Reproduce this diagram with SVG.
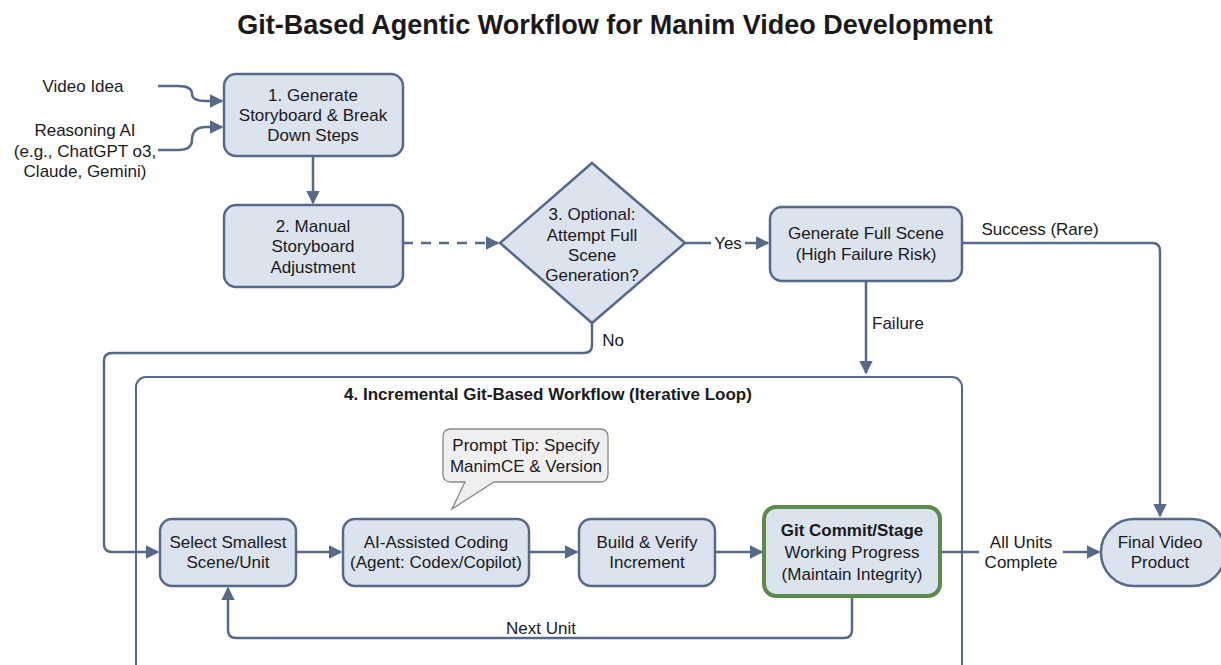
<svg xmlns="http://www.w3.org/2000/svg" width="1221" height="665" viewBox="0 0 1221 665">
  <style>
    text { font-family: "Liberation Sans", Arial, sans-serif; font-size: 17px; fill: #1a1a1a; text-anchor: middle; dominant-baseline: central; }
    .title { font-size: 27px; font-weight: bold; }
    .bold { font-weight: bold; }
    .node { fill: #dbe3ee; stroke: #56698b; stroke-width: 2.5; }
    .git { fill: #dbe3ee; stroke: #5b8a4c; stroke-width: 4; }
    .tip { fill: #efefef; stroke: #888; stroke-width: 1.3; }
    .frame { fill: none; stroke: #56698b; stroke-width: 2; }
    .edge { fill: none; stroke: #56698b; stroke-width: 2.5; }
    .dash { stroke-dasharray: 10 8; }
    .lbl-bg { fill: #ffffff; }
  </style>
  <defs>
    <marker id="arrow" viewBox="0 0 10 10" refX="9" refY="5" markerWidth="5.5" markerHeight="5.5" orient="auto">
      <path d="M0,0 L10,5 L0,10 z" fill="#56698b"/>
    </marker>
  </defs>
  <rect width="1221" height="665" fill="#ffffff"/>

  <text class="title" x="615" y="25">Git-Based Agentic Workflow for Manim Video Development</text>

  <!-- container for the iterative loop -->
  <g id="loop">
    <rect class="frame" x="136" y="377" width="826" height="310" rx="10"/>
    <text class="bold" x="548" y="394">4. Incremental Git-Based Workflow (Iterative Loop)</text>
  </g>

  <g id="connectors">
    <path class="edge" d="M158,86 H178 Q192,86 192,94 Q192,101 206,101 H222" marker-end="url(#arrow)"/>
    <path class="edge" d="M158,150 H178 Q192,150 192,140 Q192,127 206,127 H222" marker-end="url(#arrow)"/>
    <path class="edge" d="M313,156 V203" marker-end="url(#arrow)"/>
    <path class="edge dash" d="M403,243 H498" marker-end="url(#arrow)"/>
    <path class="edge" d="M685,243 H768" marker-end="url(#arrow)"/>
    <path class="edge" d="M962,243 H1152 Q1160,243 1160,251 V516" marker-end="url(#arrow)"/>
    <path class="edge" d="M866,281 V373" marker-end="url(#arrow)"/>
    <path class="edge" d="M592,323 V345 Q592,353 584,353 H112 Q104,353 104,361 V544 Q104,552 112,552 H158" marker-end="url(#arrow)"/>
    <path class="edge" d="M296,552 H341" marker-end="url(#arrow)"/>
    <path class="edge" d="M529,552 H577" marker-end="url(#arrow)"/>
    <path class="edge" d="M715,552 H762" marker-end="url(#arrow)"/>
    <path class="edge" d="M940,552 H1099" marker-end="url(#arrow)"/>
    <path class="edge" d="M852,596 V630 Q852,638 844,638 H236 Q228,638 228,630 V588" marker-end="url(#arrow)"/>
    <!-- edge labels -->
    <rect class="lbl-bg" x="711" y="233" width="34" height="20"/>
    <text x="728" y="243">Yes</text>
    <text x="1040" y="229">Success (Rare)</text>
    <text x="898" y="323">Failure</text>
    <text x="613" y="340">No</text>
    <rect class="lbl-bg" x="979" y="532" width="84" height="40"/>
    <text x="1021" y="542">All Units</text>
    <text x="1021" y="562">Complete</text>
    <text x="541" y="628">Next Unit</text>
  </g>

  <g id="inputs">
    <text x="83" y="86">Video Idea</text>
    <text x="85" y="130">Reasoning AI</text>
    <text x="85" y="151">(e.g., ChatGPT o3,</text>
    <text x="85" y="171">Claude, Gemini)</text>
  </g>

  <g id="storyboard">
    <rect class="node" x="224" y="74" width="179" height="82" rx="12"/>
    <text x="313" y="95">1. Generate</text>
    <text x="313" y="115">Storyboard &amp; Break</text>
    <text x="313" y="135">Down Steps</text>
  </g>

  <g id="manual-adjust">
    <rect class="node" x="224" y="205" width="179" height="82" rx="12"/>
    <text x="313" y="226">2. Manual</text>
    <text x="313" y="246">Storyboard</text>
    <text x="313" y="267">Adjustment</text>
  </g>

  <g id="decision">
    <polygon class="node" points="592,163 685,243 592,323 500,243"/>
    <text x="592" y="214">3. Optional:</text>
    <text x="592" y="235">Attempt Full</text>
    <text x="592" y="255">Scene</text>
    <text x="592" y="275">Generation?</text>
  </g>

  <g id="full-scene">
    <rect class="node" x="770" y="207" width="192" height="74" rx="12"/>
    <text x="866" y="233">Generate Full Scene</text>
    <text x="866" y="254">(High Failure Risk)</text>
  </g>

  <g id="prompt-tip">
    <path class="tip" d="M451,429 H600 Q608,429 608,437 V474 Q608,482 600,482 H494 L452,509 L465,482 H451 Q443,482 443,474 V437 Q443,429 451,429 Z"/>
    <text x="526" y="445">Prompt Tip: Specify</text>
    <text x="526" y="466">ManimCE &amp; Version</text>
  </g>

  <g id="select-unit">
    <rect class="node" x="160" y="519" width="136" height="67" rx="12"/>
    <text x="228" y="542">Select Smallest</text>
    <text x="228" y="562">Scene/Unit</text>
  </g>

  <g id="ai-coding">
    <rect class="node" x="343" y="519" width="186" height="67" rx="12"/>
    <text x="436" y="542">AI-Assisted Coding</text>
    <text x="436" y="562">(Agent: Codex/Copilot)</text>
  </g>

  <g id="build-verify">
    <rect class="node" x="579" y="519" width="136" height="67" rx="12"/>
    <text x="647" y="542">Build &amp; Verify</text>
    <text x="647" y="562">Increment</text>
  </g>

  <g id="git-commit">
    <rect class="git" x="764" y="507" width="176" height="89" rx="12"/>
    <text class="bold" x="852" y="530">Git Commit/Stage</text>
    <text x="852" y="552">Working Progress</text>
    <text x="852" y="574">(Maintain Integrity)</text>
  </g>

  <g id="final-video">
    <rect class="node" x="1101" y="519" width="124" height="67" rx="33"/>
    <text x="1160" y="542">Final Video</text>
    <text x="1160" y="562">Product</text>
  </g>
</svg>
